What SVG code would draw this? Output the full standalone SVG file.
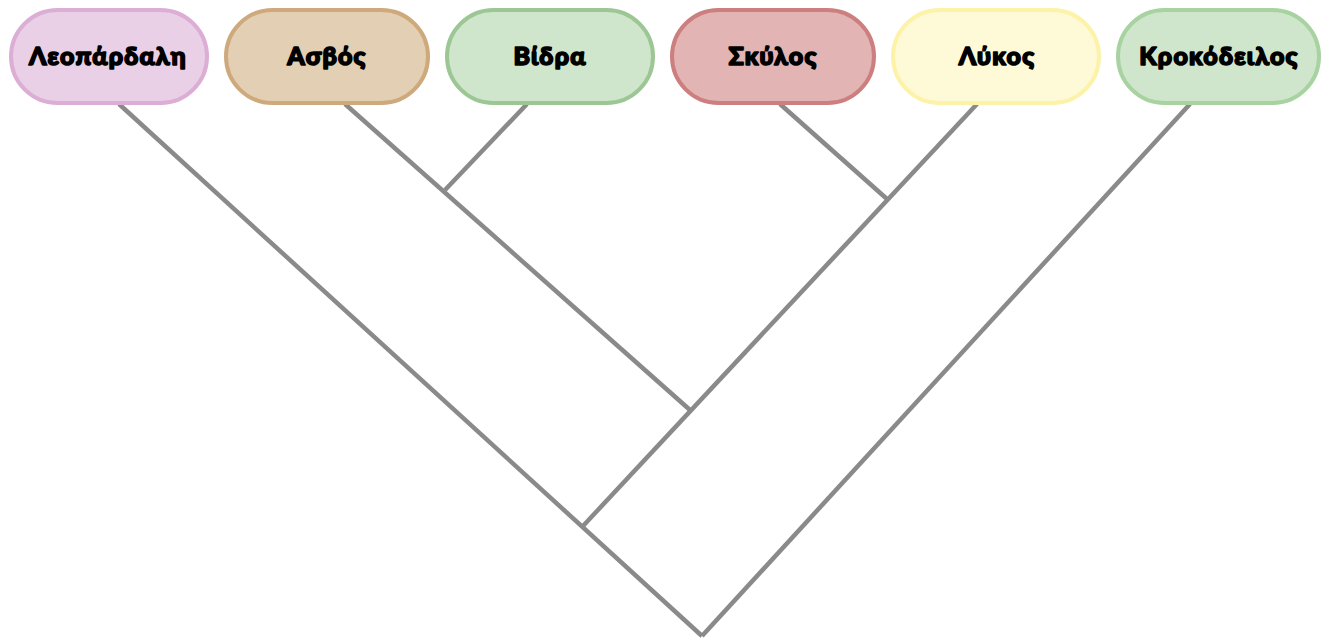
<svg xmlns="http://www.w3.org/2000/svg" width="1330" height="640" viewBox="0 0 1330 640">
<style>
.n rect{stroke-width:4}
.n text{font-family:"Lato","DejaVu Sans","Liberation Sans",sans-serif;font-weight:900;font-size:25px;letter-spacing:1.2px;text-anchor:middle;fill:#000;stroke:#000;stroke-width:1.6;stroke-linejoin:round}
.e line{stroke:#8a8a8a;stroke-width:4.5;stroke-linecap:butt}
</style>
<rect width="1330" height="640" fill="#fff"/>
<g id="edges" class="e">
<line x1="119" y1="104" x2="702" y2="636"/>
<line x1="1190" y1="104" x2="702" y2="636"/>
<line x1="345" y1="104" x2="690" y2="410"/>
<line x1="527" y1="104" x2="445" y2="190"/>
<line x1="780" y1="104" x2="887" y2="199"/>
<line x1="977" y1="104" x2="583" y2="526"/>
</g>
<g id="n1" class="n"><rect x="11" y="10" width="196" height="93" rx="46.5" fill="#e9d0e6" stroke="#dcaed5"/><text x="108" y="65">Λεοπάρδαλη</text></g>
<g id="n2" class="n"><rect x="226" y="10" width="202" height="93" rx="46.5" fill="#e3cfb3" stroke="#cda97c"/><text x="327" y="65">Ασβός</text></g>
<g id="n3" class="n"><rect x="447" y="10" width="206" height="93" rx="46.5" fill="#d0e6cc" stroke="#9cc795"/><text x="550" y="65">Βίδρα</text></g>
<g id="n4" class="n"><rect x="672" y="10" width="202" height="93" rx="46.5" fill="#e2b4b4" stroke="#cd7f7f"/><text x="773" y="65">Σκύλος</text></g>
<g id="n5" class="n"><rect x="893" y="10" width="206" height="93" rx="46.5" fill="#fef9d6" stroke="#fcf3a9"/><text x="997" y="65">Λύκος</text></g>
<g id="n6" class="n"><rect x="1118" y="10" width="201" height="93" rx="46.5" fill="#d0e6cc" stroke="#a8d3a0"/><text x="1219" y="65">Κροκόδειλος</text></g>
</svg>
